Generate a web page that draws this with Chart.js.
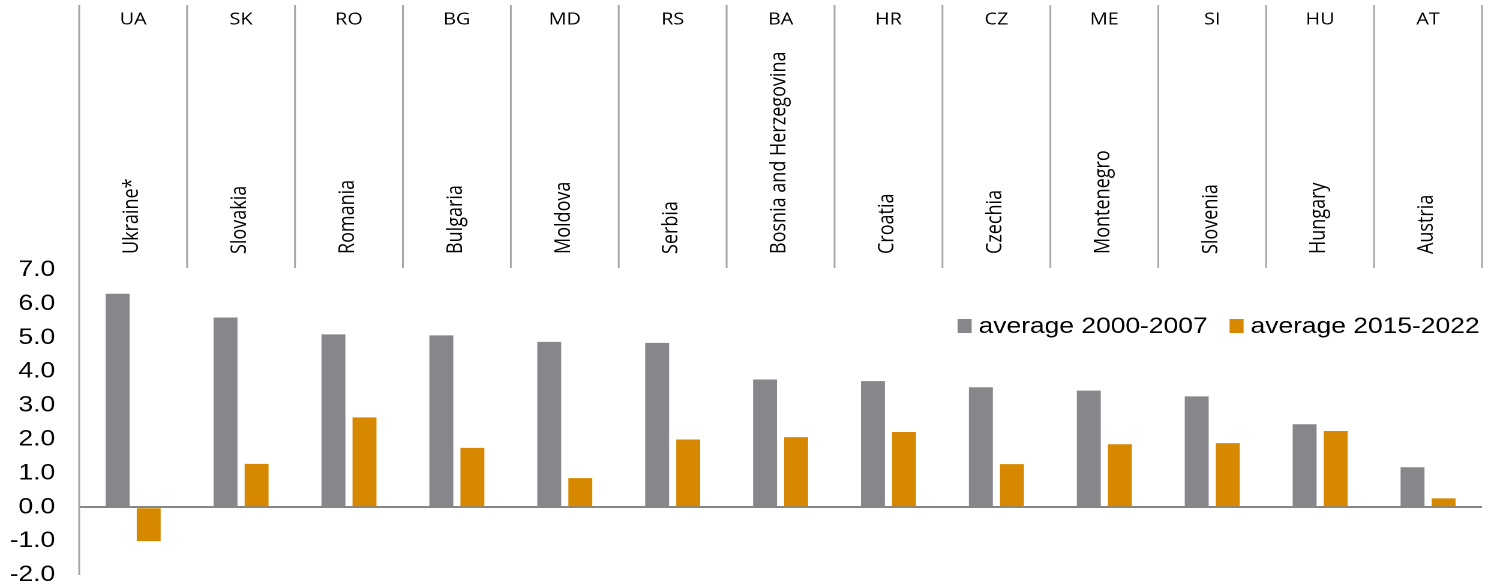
<!doctype html>
<html lang="en"><head>
<meta charset="utf-8"/>
<title>average 2000-2007 vs 2015-2022</title>
<script src="https://cdn.jsdelivr.net/npm/chart.js@4.4.6/dist/chart.umd.min.js"></script>
<style>
  html,body{margin:0;padding:0;background:#fff;overflow:hidden}
  /* the source picture is stretched sideways, so draw narrow and widen it */
  #wrap{width:1239px;height:586px;transform:scaleX(1.2);transform-origin:0 0}
</style></head>
<body>
<div id="wrap"><canvas id="c"></canvas></div>
<script>
const codes=['UA','SK','RO','BG','MD','RS','BA','HR','CZ','ME','SI','HU','AT'];
const names=['Ukraine*','Slovakia','Romania','Bulgaria','Moldova','Serbia','Bosnia and Herzegovina','Croatia','Czechia','Montenegro','Slovenia','Hungary','Austria'];
const avg0007=[6.3,5.6,5.1,5.07,4.88,4.85,3.77,3.72,3.54,3.44,3.27,2.45,1.18];
const avg1522=[-1.0,1.28,2.65,1.75,0.86,2.0,2.07,2.22,1.27,1.86,1.89,2.25,0.26];
const seriesNames=['average 2000-2007','average 2015-2022'];
const yMin=-2, yMax=7, yStep=1;

const GRAY='#87868b', ORANGE='#d68800', LINE='#a6a6a6';
const SANS='"Open Sans", "Noto Sans", sans-serif';

const header={
  id:'header',
  afterDraw(chart){
    const {ctx,chartArea:a,scales:{x}}=chart;
    const n=codes.length;
    ctx.save();
    // column separators + y axis line
    ctx.strokeStyle=LINE;ctx.lineWidth=1.5;
    for(let i=0;i<=n;i++){
      let bx;
      if(i===0)bx=a.left;else if(i===n)bx=a.right;
      else bx=(x.getPixelForValue(i-1)+x.getPixelForValue(i))/2;
      ctx.beginPath();ctx.moveTo(bx,5);ctx.lineTo(bx,i===0?a.bottom:268);ctx.stroke();
    }
    ctx.fillStyle='#000';
    ctx.font='16.5px '+SANS;ctx.textAlign='center';ctx.textBaseline='middle';
    codes.forEach((c,i)=>ctx.fillText(c,x.getPixelForValue(i),20));
    ctx.font='18px '+SANS;ctx.textAlign='left';
    names.forEach((s,i)=>{
      ctx.save();ctx.translate(x.getPixelForValue(i)-1,254);ctx.rotate(-Math.PI/2);
      ctx.fillText(s,0,0);ctx.restore();
    });
    // legend
    ctx.font='22px "Liberation Sans", Arial, sans-serif';ctx.textBaseline='alphabetic';
    let lx=798;
    chart.data.datasets.forEach(ds=>{
      ctx.fillStyle=ds.backgroundColor;ctx.fillRect(lx,319,11.7,14);
      ctx.fillStyle='#000';ctx.fillText(ds.label,lx+17.5,333);
      lx+=17.5+ctx.measureText(ds.label).width+18.3;
    });
    ctx.restore();
  }
};

new Chart(document.getElementById('c'),{
  type:'bar',
  data:{labels:codes,datasets:[
    {label:seriesNames[0],data:avg0007,backgroundColor:GRAY},
    {label:seriesNames[1],data:avg1522,backgroundColor:ORANGE}
  ]},
  options:{
    responsive:true,maintainAspectRatio:false,animation:false,devicePixelRatio:2,
    layout:{padding:{top:270,bottom:11,left:0,right:4}},
    datasets:{bar:{categoryPercentage:0.576,barPercentage:0.77}},
    plugins:{legend:{display:false},tooltip:{enabled:false}},
    scales:{
      x:{display:false},
      y:{min:yMin,max:yMax,
        border:{display:false},
        grid:{drawTicks:false,lineWidth:c=>c.tick&&c.tick.value===0?2:0,color:c=>c.tick&&c.tick.value===0?'#868686':'rgba(0,0,0,0)'},
        ticks:{stepSize:yStep,padding:20,color:'#000',font:{family:'"Liberation Sans", Arial, sans-serif',size:22},callback:v=>v.toFixed(1)},
        afterFit(s){s.width=66;s.paddingTop=0;s.paddingBottom=0;}
      }
    }
  },
  plugins:[header]
});
</script>
</body></html>
